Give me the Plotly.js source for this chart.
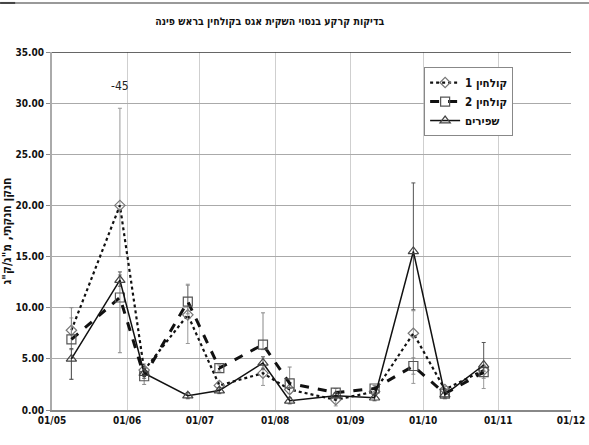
<!DOCTYPE html>
<html>
<head>
<meta charset="utf-8">
<script src="https://cdn.plot.ly/plotly-3.0.1.min.js"></script>
<style>
html,body{margin:0;padding:0;background:#fff;}
#chart{width:589px;height:445px;}
</style>
</head>
<body>
<div id="chart"></div>
<script>
// ---- data ----
var dates = ["2008-05-09","2008-05-29","2008-06-08","2008-06-26","2008-07-09","2008-07-27",
             "2008-08-07","2008-08-26","2008-09-11","2008-09-27","2008-10-10","2008-10-26"];
var seriesNames = ["קולחין 1","קולחין 2","שפירים"];
var kolchin1 = [7.8, 20.0, 3.9, 9.3, 2.4, 3.6, 2.0, 1.0, 1.8, 7.5, 2.0, 3.9];
var kolchin2 = [6.9, 11.0, 3.3, 10.6, 4.1, 6.4, 2.6, 1.7, 2.1, 4.3, 1.6, 3.7];
var shfirim  = [5.0, 12.7, 3.6, 1.4, 1.9, 4.6, 0.9, 1.4, 1.2, 15.5, 1.5, 4.4];
var k1ErrPlus  = [1.2, 9.5, 0.6, 3.0, 0.4, 0.5, 0.4, 0.6, 0.3, 2.2, 0.3, 0.5];
var k1ErrMinus = [4.8, 5.0, 0.6, 2.8, 0.4, 1.2, 0.4, 0.6, 0.3, 4.9, 0.3, 1.8];
var k2ErrPlus  = [3.1, 2.2, 0.8, 1.6, 0.3, 3.1, 1.6, 0.4, 0.3, 0.8, 0.4, 0.6];
var k2ErrMinus = [1.0, 5.4, 0.8, 1.2, 0.3, 0.5, 0.5, 0.4, 0.3, 0.8, 0.4, 0.6];
var shErrPlus  = [1.0, 0.8, 0.5, 0.3, 0.3, 0.6, 0.3, 0.3, 0.3, 6.7, 0.4, 2.2];
var shErrMinus = [2.0, 0.6, 0.5, 0.3, 0.3, 0.6, 0.3, 0.3, 0.3, 5.7, 0.4, 0.6];
var xTickVals = ["2008-05-01","2008-06-01","2008-07-01","2008-08-01","2008-09-01","2008-10-01","2008-11-01","2008-12-01"];
var xTickText = ["01/05","01/06","01/07","01/08","01/09","01/10","01/11","01/12"];
var chartTitle = "בדיקות קרקע בנסוי השקית אגס בקולחין בראש פינה";
var yTitle = "חנקן חנקתי, מ\"ג/ק\"ג";
var outlierLabel = "-45";

var FONT = "Liberation Sans Narrow, Arial Narrow, DejaVu Sans Condensed, sans-serif";

function errBar(plus, minus, color){
  return {type:'data', symmetric:false, array:plus, arrayminus:minus,
          color:color, thickness:1, width:2, visible:true};
}

var traces = [
  {x:dates, y:kolchin1, name:seriesNames[0], mode:'lines+markers', type:'scatter',
   line:{color:'#111', width:2.2, dash:'dot'},
   marker:{symbol:'diamond-open', size:8, color:'#777', line:{width:1.2, color:'#777'}},
   error_y:errBar(k1ErrPlus, k1ErrMinus, '#999')},
  {x:dates, y:kolchin2, name:seriesNames[1], mode:'lines+markers', type:'scatter',
   line:{color:'#111', width:3, dash:'dash'},
   marker:{symbol:'square-open', size:9, color:'#555', line:{width:1.2, color:'#555'}},
   error_y:errBar(k2ErrPlus, k2ErrMinus, '#888')},
  {x:dates, y:shfirim, name:seriesNames[2], mode:'lines+markers', type:'scatter',
   line:{color:'#111', width:1.5, dash:'solid'},
   marker:{symbol:'triangle-up-open', size:9, color:'#444', line:{width:1.2, color:'#444'}},
   error_y:errBar(shErrPlus, shErrMinus, '#555')}
];

var layout = {
  width:589, height:445,
  margin:{l:52, r:18, t:52, b:35},
  paper_bgcolor:'#fff', plot_bgcolor:'#fff',
  showlegend:true,
  font:{family:FONT, size:11, color:'#111'},
  title:{text:'<b>'+chartTitle+'</b>', x:0.458, xanchor:'center', xref:'container',
         y:0.951, yanchor:'middle', yref:'container',
         font:{family:FONT, size:10.5, color:'#111'}},
  xaxis:{type:'date', range:["2008-05-01","2008-12-01"],
         tickvals:xTickVals, ticktext:xTickText,
         showgrid:true, gridcolor:'#cfcfcf', gridwidth:1,
         showline:true, linecolor:'#888', linewidth:2,
         ticks:'', tickfont:{family:FONT, size:10, color:'#111', weight:'bold'},
         zeroline:false, fixedrange:true},
  yaxis:{range:[0,35], dtick:5, tick0:0, tickformat:'.2f',
         showgrid:true, gridcolor:'#aaa', gridwidth:1,
         showline:true, linecolor:'#aaa', linewidth:2,
         ticks:'outside', ticklen:4, tickcolor:'#888',
         tickfont:{family:FONT, size:10, color:'#111', weight:'bold'},
         title:{text:'<b>'+yTitle+'</b>', standoff:12, font:{family:FONT, size:12, color:'#111'}},
         zeroline:false, fixedrange:true},
  legend:{x:0.717, y:0.958, xanchor:'left', yanchor:'top',
          bgcolor:'#fff', bordercolor:'#888', borderwidth:1,
          font:{family:FONT, size:11.5, color:'#111', weight:'bold'},
          itemwidth:30, tracegroupgap:2},
  annotations:[
    {x:dates[1], y:kolchin1[1]+k1ErrPlus[1]+2.2, xref:'x', yref:'y', text:outlierLabel,
     showarrow:false, font:{family:FONT, size:12, color:'#222'}}
  ],
  shapes:[
    {type:'line', xref:'paper', yref:'paper', x0:-0.1, x1:1.04, y0:1.137, y1:1.137,
     line:{color:'#999', width:2}},
    {type:'line', xref:'paper', yref:'paper', x0:-0.1, x1:-0.071, y0:1.137, y1:1.137,
     line:{color:'#444', width:2}},
    {type:'line', xref:'paper', yref:'y', x0:0, x1:1, y0:35, y1:35,
     line:{color:'#333', width:1.5}}
  ]
};

Plotly.newPlot('chart', traces, layout, {displayModeBar:false, staticPlot:true});
</script>
</body>
</html>
